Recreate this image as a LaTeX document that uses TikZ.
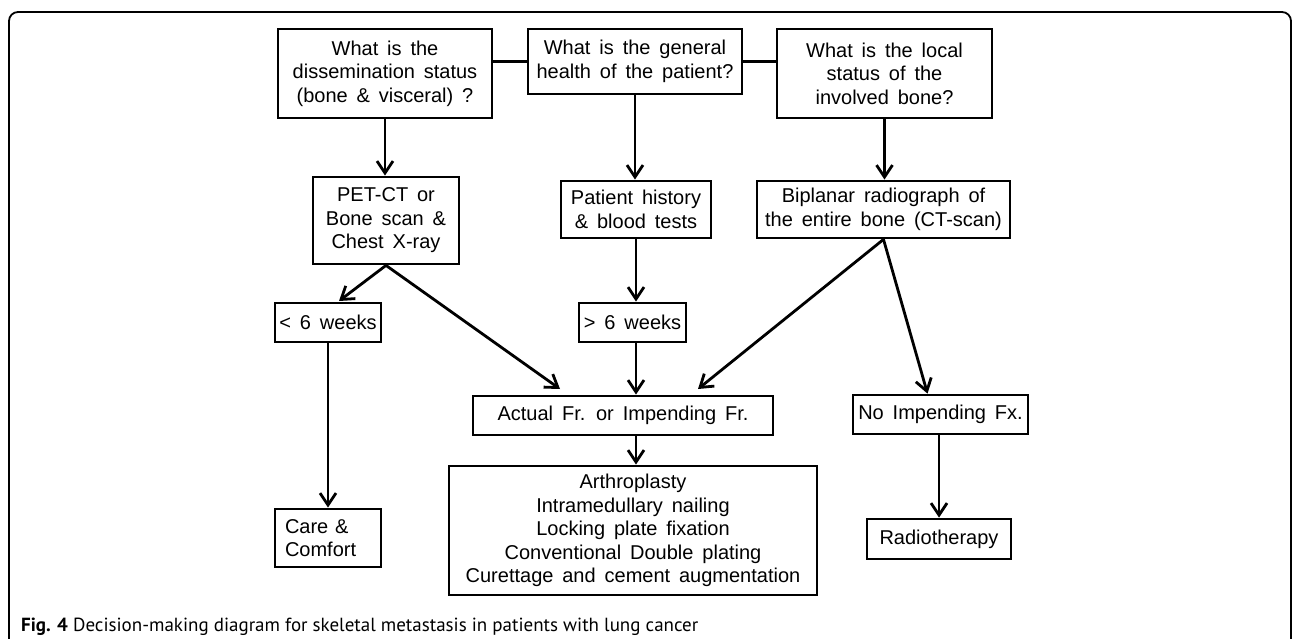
\documentclass[tikz,border=0pt]{standalone}
\usepackage{fontspec}
\setmainfont{Liberation Sans}[WordSpace=1.6]
\newfontfamily\capfont{PT Sans}
\usetikzlibrary{arrows.meta}

\begin{document}
\begin{tikzpicture}[x=1pt, y=-1pt, line cap=round, font=\fontsize{20}{23.5}\selectfont,
	box/.style={draw, line width=2.8pt, align=center, inner sep=0pt},
	arr/.style={-{Straight Barb[length=12pt, width=16pt, line width=2.8pt]}, line width=2.8pt}]
	\useasboundingbox (0,0) rectangle (1292,639);
	\draw [line width=1.8pt, rounded corners=9pt] (9,645)--(9,12)--(1291,12)--(1291,645); % khung
	% cau hoi
	\node [box, minimum width=214pt, minimum height=89pt] (dis) at (385,73.5) {What is the\\dissemination status\\(bone \& visceral) ?};
	\node [box, minimum width=214pt, minimum height=65pt] (gen) at (635,61.5) {What is the general\\health of the patient?};
	\node [box, minimum width=215pt, minimum height=89pt] (loc) at (884.5,73.5) {What is the local\\status of the\\involved bone?};
	\draw [line width=2.8pt] (dis.east|-gen.west)--(gen.west) (gen.east)--(loc.west|-gen.east);
	% kham
	\node [box, minimum width=146pt, minimum height=87pt] (pet) at (386,220.5) {PET-CT or\\Bone scan \&\\Chest X-ray};
	\node [box, minimum width=150pt, minimum height=57pt] (his) at (636,209.5) {Patient history\\\& blood tests};
	\node [box, minimum width=253pt, minimum height=57pt] (bip) at (883.5,209.5) {Biplanar radiograph of\\the entire bone (CT-scan)};
	\draw [arr] (dis.south)--(dis.south|-pet.north);
	\draw [arr] (gen.south)--(gen.south|-his.north);
	\draw [arr] (loc.south)--(loc.south|-bip.north);
	% thoi gian song
	\node [box, minimum width=106pt, minimum height=39pt] (lt) at (328,322.5) {< 6 weeks};
	\node [box, minimum width=107pt, minimum height=39pt] (gt) at (632.5,322.5) {> 6 weeks};
	\node [box, minimum width=300pt, minimum height=39pt] (act) at (623,415.5) {Actual Fr. or Impending Fr.};
	\node [box, minimum width=175pt, minimum height=39pt] (noi) at (940.5,414.5) {No Impending Fx.};
	\coordinate (ltin) at (339,301);
	\coordinate (petin) at (560,389);
	\coordinate (bipin) at (698,389);
	\draw [arr] (pet.south)--(ltin);
	\draw [arr] (pet.south)--(petin);
	\draw [arr] (his.south)--(his.south|-gt.north);
	\draw [arr] (gt.south-|his.south)--(his.south|-act.north);
	\draw [arr] (bip.south)--(bipin);
	\draw [arr] (bip.south)--([xshift=-13pt]noi.north);
	% dieu tri
	\node [box, minimum width=106pt, minimum height=58pt, text width=86pt, align=left] (car) at (328,538) {Care \&\\Comfort};
	\node [box, minimum width=368pt, minimum height=129pt] (trt) at (633,530.5) {Arthroplasty\\Intramedullary nailing\\Locking plate fixation\\Conventional Double plating\\Curettage and cement augmentation};
	\node [box, minimum width=144pt, minimum height=40pt] (rad) at (939,539) {Radiotherapy};
	\draw [arr] (lt.south-|car.north)--(car.north);
	\draw [arr] (act.south-|his.south)--(his.south|-trt.north);
	\draw [arr] (noi.south-|rad.north)--(rad.north);
	\node [anchor=base west, inner sep=0pt, font=\capfont\fontsize{19}{22}\selectfont] (fig) at (21,631) {\textbf{Fig. 4} Decision-making diagram for skeletal metastasis in patients with lung cancer};
\end{tikzpicture}
\end{document}
